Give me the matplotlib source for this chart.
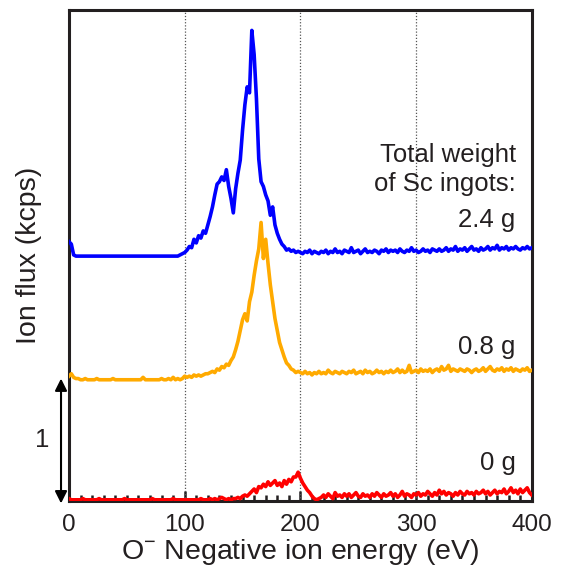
import numpy as np
import matplotlib
matplotlib.use("Agg")
import matplotlib.pyplot as plt
from matplotlib.ticker import MultipleLocator

plt.rcParams['font.family'] = ['Liberation Sans', 'DejaVu Sans']
plt.rcParams['mathtext.fontset'] = 'custom'
plt.rcParams['mathtext.rm'] = 'Liberation Sans'
plt.rcParams['mathtext.it'] = 'Liberation Sans'

# energy axis, 2 eV step from 0 to 400 eV
energy = np.arange(0, 401, 2)

# ion flux (kcps), Sc total weight 2.4 g
flux_24 = [
    0.16, 0.14, 0.05, 0.04, 0.04, 0.04, 0.04, 0.04, 0.04, 0.04,
    0.04, 0.04, 0.04, 0.04, 0.04, 0.04, 0.04, 0.04, 0.04, 0.04,
    0.04, 0.04, 0.04, 0.04, 0.04, 0.04, 0.04, 0.04, 0.04, 0.04,
    0.04, 0.04, 0.04, 0.04, 0.04, 0.04, 0.04, 0.04, 0.04, 0.04,
    0.04, 0.04, 0.04, 0.04, 0.04, 0.04, 0.04, 0.04, 0.05, 0.06,
    0.07, 0.09, 0.12, 0.11, 0.18, 0.15, 0.21, 0.19, 0.25, 0.23,
    0.30, 0.37, 0.45, 0.55, 0.64, 0.66, 0.70, 0.67, 0.76, 0.62,
    0.52, 0.40, 0.60, 0.73, 0.84, 1.09, 1.30, 1.45, 1.40, 1.92,
    1.72, 1.35, 0.85, 0.66, 0.62, 0.55, 0.50, 0.38, 0.45, 0.30,
    0.23, 0.18, 0.14, 0.12, 0.09, 0.10, 0.08, 0.09, 0.07, 0.08,
    0.07, 0.06, 0.08, 0.07, 0.09, 0.06, 0.08, 0.07, 0.06, 0.08,
    0.07, 0.09, 0.06, 0.08, 0.07, 0.10, 0.07, 0.08, 0.06, 0.09,
    0.08, 0.07, 0.11, 0.07, 0.08, 0.09, 0.06, 0.08, 0.10, 0.07,
    0.08, 0.07, 0.09, 0.08, 0.06, 0.09, 0.08, 0.10, 0.07, 0.09,
    0.08, 0.09, 0.07, 0.10, 0.08, 0.07, 0.09, 0.08, 0.11, 0.08,
    0.09, 0.07, 0.08, 0.10, 0.08, 0.09, 0.07, 0.10, 0.09, 0.08,
    0.10, 0.08, 0.09, 0.11, 0.08, 0.10, 0.09, 0.12, 0.08, 0.10,
    0.09, 0.11, 0.08, 0.10, 0.12, 0.09, 0.10, 0.08, 0.11, 0.09,
    0.10, 0.12, 0.09, 0.11, 0.10, 0.13, 0.09, 0.11, 0.10, 0.12,
    0.09, 0.11, 0.10, 0.12, 0.10, 0.09, 0.11, 0.10, 0.12, 0.10,
    0.11,
]

# Sc total weight 0.8 g
flux_08 = [
    0.04, 0.06, 0.03, 0.02, 0.02, 0.01, 0.01, 0.02, 0.01, 0.01,
    0.01, 0.01, 0.02, 0.01, 0.01, 0.01, 0.01, 0.01, 0.01, 0.02,
    0.01, 0.01, 0.01, 0.01, 0.01, 0.01, 0.01, 0.01, 0.01, 0.01,
    0.01, 0.01, 0.03, 0.01, 0.01, 0.01, 0.01, 0.01, 0.01, 0.01,
    0.02, 0.01, 0.01, 0.02, 0.01, 0.03, 0.01, 0.02, 0.01, 0.02,
    0.04, 0.03, 0.04, 0.03, 0.05, 0.04, 0.05, 0.04, 0.05, 0.06,
    0.06, 0.07, 0.08, 0.07, 0.10, 0.09, 0.12, 0.11, 0.14, 0.13,
    0.17, 0.20, 0.26, 0.33, 0.42, 0.51, 0.56, 0.50, 0.66, 0.74,
    0.88, 1.00, 1.10, 1.32, 1.02, 1.18, 0.98, 0.80, 0.66, 0.52,
    0.42, 0.32, 0.26, 0.20, 0.15, 0.13, 0.10, 0.09, 0.07, 0.08,
    0.07, 0.06, 0.08, 0.06, 0.07, 0.05, 0.07, 0.06, 0.08, 0.06,
    0.07, 0.06, 0.09, 0.07, 0.06, 0.08, 0.07, 0.06, 0.08, 0.07,
    0.06, 0.08, 0.07, 0.09, 0.06, 0.07, 0.08, 0.06, 0.09, 0.07,
    0.08, 0.06, 0.07, 0.09, 0.07, 0.08, 0.06, 0.08, 0.07, 0.09,
    0.07, 0.08, 0.10, 0.07, 0.09, 0.07, 0.08, 0.13, 0.07, 0.08,
    0.09, 0.07, 0.10, 0.08, 0.09, 0.08, 0.10, 0.07, 0.09, 0.10,
    0.08, 0.12, 0.09, 0.10, 0.13, 0.08, 0.10, 0.09, 0.08, 0.10,
    0.09, 0.08, 0.10, 0.09, 0.07, 0.09, 0.10, 0.08, 0.09, 0.11,
    0.08, 0.10, 0.12, 0.09, 0.08, 0.10, 0.09, 0.11, 0.08, 0.10,
    0.09, 0.11, 0.08, 0.10, 0.09, 0.08, 0.10, 0.09, 0.11, 0.08,
    0.09,
]

# Sc total weight 0 g
flux_00 = [
    0.02, 0.01, 0.01, 0.01, 0.01, 0.01, 0.02, 0.01, 0.01, 0.01,
    0.01, 0.01, 0.01, 0.02, 0.01, 0.01, 0.01, 0.01, 0.01, 0.01,
    0.01, 0.01, 0.01, 0.01, 0.02, 0.01, 0.01, 0.01, 0.01, 0.01,
    0.01, 0.01, 0.01, 0.01, 0.01, 0.01, 0.02, 0.01, 0.01, 0.01,
    0.01, 0.01, 0.01, 0.01, 0.01, 0.02, 0.01, 0.01, 0.01, 0.01,
    0.01, 0.01, 0.01, 0.01, 0.01, 0.01, 0.01, 0.02, 0.01, 0.01,
    0.01, 0.02, 0.01, 0.02, 0.01, 0.02, 0.03, 0.02, 0.01, 0.02,
    0.01, 0.02, 0.02, 0.03, 0.02, 0.04, 0.05, 0.04, 0.06, 0.08,
    0.10, 0.07, 0.12, 0.11, 0.14, 0.12, 0.16, 0.13, 0.15, 0.17,
    0.13, 0.15, 0.12, 0.17, 0.14, 0.18, 0.16, 0.20, 0.20, 0.24,
    0.19, 0.15, 0.12, 0.09, 0.07, 0.04, 0.02, 0.01, 0.02, 0.03,
    0.05, 0.03, 0.06, 0.04, 0.02, 0.07, 0.04, 0.05, 0.03, 0.06,
    0.04, 0.06, 0.03, 0.05, 0.07, 0.04, 0.03, 0.06, 0.04, 0.05,
    0.03, 0.06, 0.04, 0.07, 0.05, 0.03, 0.06, 0.04, 0.05, 0.07,
    0.04, 0.06, 0.03, 0.05, 0.08, 0.04, 0.06, 0.05, 0.03, 0.06,
    0.05, 0.07, 0.04, 0.06, 0.05, 0.08, 0.06, 0.04, 0.07, 0.05,
    0.09, 0.06, 0.08, 0.05, 0.07, 0.06, 0.04, 0.07, 0.05, 0.08,
    0.06, 0.05, 0.08, 0.06, 0.07, 0.05, 0.08, 0.06, 0.07, 0.09,
    0.06, 0.08, 0.05, 0.07, 0.09, 0.06, 0.08, 0.07, 0.10, 0.06,
    0.08, 0.11, 0.07, 0.09, 0.06, 0.10, 0.07, 0.09, 0.11, 0.07,
    0.05,
]

series = [flux_00, flux_08, flux_24]
offsets = [0.0, 1.0, 2.0]
colors = ['#ff0000', '#ffaa00', '#0000ff']
labels = ['0 g', '0.8 g', '2.4 g']
label_y = [0.32, 1.28, 2.34]

text_color = '#231f20'

fig = plt.figure(figsize=(5.61, 5.69), dpi=100)
ax = fig.add_axes([0.123, 0.1195, 0.825, 0.8629])

for xv in [100, 200, 300]:
    ax.axvline(xv, color='#555555', lw=0.9, ls=(0, (1, 1.5)), zorder=1)

for vals, off, c in zip(series, offsets, colors):
    ax.plot(energy, np.array(vals) + off, color=c, lw=2.6, zorder=3)

ax.set_xlim(0, 400)
ax.set_ylim(0, 4.09)
ax.set_axisbelow(True)

ax.xaxis.set_major_locator(MultipleLocator(100))
ax.xaxis.set_minor_locator(MultipleLocator(10))
ax.tick_params(axis='x', which='major', direction='in', length=7, width=1.8,
               color=text_color, labelsize=17.5, labelcolor=text_color, pad=9)
ax.tick_params(axis='x', which='minor', direction='in', length=4.3, width=1.8,
               color=text_color)
ax.tick_params(axis='y', left=False, labelleft=False)

for s in ax.spines.values():
    s.set_linewidth(2.2)
    s.set_color(text_color)

ax.set_xlabel(r'O$^{-}$ Negative ion energy (eV)', fontsize=20.5,
              color=text_color, labelpad=1)
ax.set_ylabel('Ion flux (kcps)', fontsize=20.5, color=text_color)
ax.yaxis.set_label_coords(-0.058, 0.5)

ax.text(386, 2.88, 'Total weight', fontsize=18.5, ha='right', va='center',
        color=text_color)
ax.text(386, 2.64, 'of Sc ingots:', fontsize=18.5, ha='right', va='center',
        color=text_color)
for lab, ly in zip(labels, label_y):
    ax.text(386, ly, lab, fontsize=18.5, ha='right', va='center', color=text_color)

# 1 kcps scale bar
ax.annotate('', xy=(-6.9, -0.02), xytext=(-6.9, 1.02),
            arrowprops=dict(arrowstyle='<|-|>', color='black', lw=1.5,
                            mutation_scale=18, shrinkA=0, shrinkB=0),
            annotation_clip=False)
ax.text(-23, 0.51, '1', fontsize=18.5, ha='center', va='center',
        color=text_color, clip_on=False)

fig.savefig('out.png', dpi=100)
